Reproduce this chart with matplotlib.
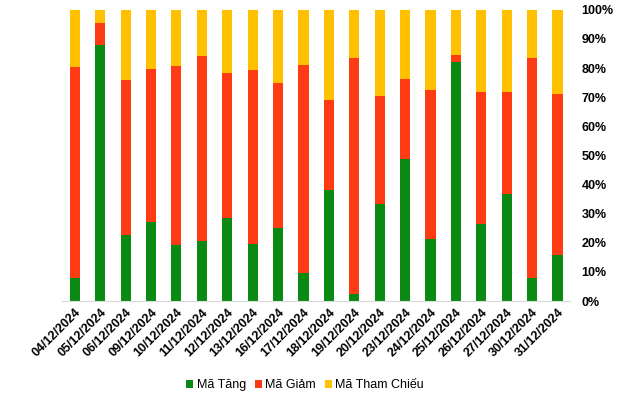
import numpy as np
import matplotlib.pyplot as plt

plt.rcParams['font.family'] = ['Liberation Sans', 'DejaVu Sans']

dates = ['04/12/2024', '05/12/2024', '06/12/2024', '09/12/2024', '10/12/2024',
         '11/12/2024', '12/12/2024', '13/12/2024', '16/12/2024', '17/12/2024',
         '18/12/2024', '19/12/2024', '20/12/2024', '23/12/2024', '24/12/2024',
         '25/12/2024', '26/12/2024', '27/12/2024', '30/12/2024', '31/12/2024']
# percentages
tang = [8.0, 88.0, 22.7, 27.3, 19.2, 20.6, 28.6, 19.7, 25.1, 9.6,
        38.1, 2.4, 33.4, 48.8, 21.3, 82.2, 26.5, 36.9, 8.0, 15.8]
giam = [72.5, 7.5, 53.2, 52.4, 61.6, 63.6, 49.8, 59.7, 49.8, 71.5,
        31.0, 81.1, 37.0, 27.5, 51.2, 2.3, 45.3, 34.9, 75.5, 55.3]
tham_chieu = [100 - a - b for a, b in zip(tang, giam)]

tang = np.array(tang) / 100
giam = np.array(giam) / 100
tham_chieu = np.array(tham_chieu) / 100

fig = plt.figure(figsize=(6.4, 3.94), dpi=100)
ax = fig.add_axes([0.097, 0.236, 0.794, 0.739])

x = np.arange(len(dates))
w = 0.4
ax.bar(x, tang, w, color='#0B8A13', label='Mã Tăng')
ax.bar(x, giam, w, bottom=tang, color='#FF3B14', label='Mã Giảm')
ax.bar(x, tham_chieu, w, bottom=tang + giam, color='#FFC000', label='Mã Tham Chiếu')

ax.set_xlim(-0.5, len(dates) - 0.5)
ax.set_ylim(0, 1)
ax.yaxis.tick_right()
ax.set_yticks(np.arange(0, 1.01, 0.1))
ax.set_yticklabels([f'{int(round(v * 100))}%' for v in np.arange(0, 1.01, 0.1)],
                   fontsize=9, fontweight='bold')
ax.set_xticks(x)
ax.set_xticklabels(dates, rotation=45, ha='right', rotation_mode='anchor',
                   fontsize=9, fontweight='bold')
ax.tick_params(axis='both', length=0)
ax.tick_params(axis='y', pad=8)
ax.tick_params(axis='x', pad=4)

for s in ['top', 'left', 'right']:
    ax.spines[s].set_visible(False)
ax.spines['bottom'].set_color('#d9d9d9')

ax.legend(loc='center', bbox_to_anchor=(0.478, -0.29), ncol=3, frameon=False,
          fontsize=9, handlelength=0.55, handleheight=0.55, handletextpad=0.3,
          columnspacing=0.7)

plt.savefig('out.png', dpi=100)
